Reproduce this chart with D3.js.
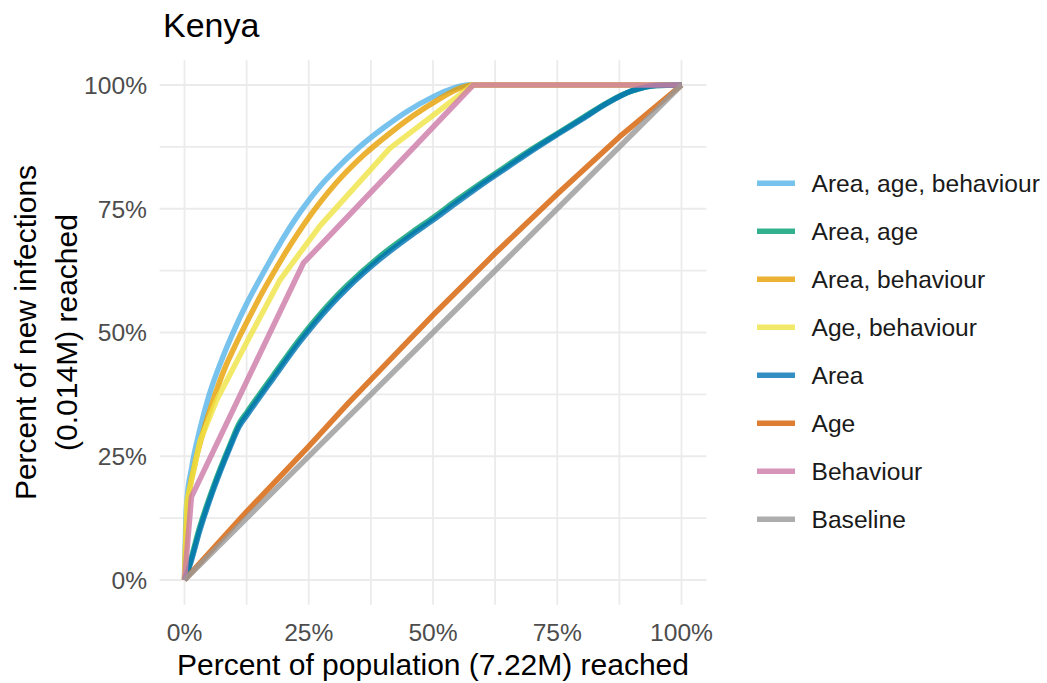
<!DOCTYPE html>
<html>
<head>
<meta charset="utf-8">
<style>
  body { margin: 0; background: #fff; }
  svg { font-family: "Liberation Sans", Arial, sans-serif; }
  .grid line { stroke: #ebebeb; stroke-width: 1.8px; }
  .tick-label { fill: #4d4d4d; font-size: 24.6px; }
  .axis-title { fill: #000; font-size: 30px; }
  .legend text { fill: #1a1a1a; font-size: 24.6px; }
  .series { fill: none; stroke-width: 5.5px; stroke-opacity: 0.8; stroke-linejoin: round; }
</style>
</head>
<body>
<svg width="1047" height="683"></svg>
<script src="https://d3js.org/d3.v7.min.js"></script>
<script>
// chart values (percent of population reached, percent of new infections reached)
var titleText = "Kenya";
var xTitle = "Percent of population (7.22M) reached";
var yTitleLines = ["Percent of new infections", "(0.014M) reached"];
var tickValues = [0, 25, 50, 75, 100];
var gridValues = [0, 12.5, 25, 37.5, 50, 62.5, 75, 87.5, 100];

var seriesNames = ["Area, age, behaviour", "Area, age", "Area, behaviour", "Age, behaviour",
                   "Area", "Age", "Behaviour", "Baseline"];
var seriesColors = ["#56B4E9", "#009E73", "#E69F00", "#F0E442",
                    "#0072B2", "#D55E00", "#CC79A7", "#999999"];
var smoothSeries = [true, true, true, false, true, false, false, false];

var areaAgeBehaviour = [[0,0],[0.4,15],[1.5,23],[3,30],[5,37.5],[7.5,44.5],[10,50.5],[12.5,55.8],[15,60.5],
  [17.5,65],[20,69.3],[22.5,73.2],[25,76.7],[27.5,79.8],[30,82.5],[35,87.3],[40,91.3],[45,94.8],[50,97.6],
  [54,99.3],[57,100],[100,100]];
var areaAge = [[0,0],[1,3.2],[3.1,10.8],[5.8,18.8],[9.2,27.4],[11,31.6],[12.5,33.8],[17.9,41.4],[23.2,48.7],
  [29.3,56],[32.6,59.4],[39.3,65.4],[46,70.4],[50,73.2],[55,76.9],[60,80.4],[65,83.8],[70,87.1],[75,90.2],
  [80,93.3],[85,96.4],[90,98.8],[95,99.9],[100,100]];
var areaBehaviour = [[0,0],[0.6,14.5],[2,23],[3.5,29],[5.5,35.5],[8,42.5],[10.5,48],[13,53],[15.5,57.8],
  [18,62.2],[20.5,66.4],[23,70.3],[25.5,73.9],[28,77.2],[30.5,80.2],[36,85.8],[41,90],[46,93.8],[51,97],
  [55,99.2],[58,100],[100,100]];
var ageBehaviour = [[0,0],[0.5,16],[3.1,28],[6.5,36.4],[12.5,48],[19.2,60.6],[27.3,71.6],[41.3,87.2],
  [58,100],[100,100]];
var area = [[0,0],[1,2.7],[3.1,10.1],[5.8,18.2],[9.2,26.9],[11,31],[12.5,33.2],[17.9,40.8],[23.2,48.1],
  [29.3,55.4],[32.6,58.8],[39.3,64.8],[46,69.9],[50,72.7],[55,76.4],[60,80],[65,83.4],[70,86.8],[75,90],
  [80,93.1],[85,96.3],[90,98.8],[95,99.9],[100,100]];
var age = [[0,0],[12.5,13.8],[25,27],[33,35.8],[50,53.5],[62.5,66],[75,78],[87.5,89.5],[100,100]];
var behaviour = [[0,0],[1.4,16.8],[23.9,64],[58.1,100],[100,100]];
var baseline = [[0,0],[100,100]];

var seriesData = [areaAgeBehaviour, areaAge, areaBehaviour, ageBehaviour, area, age, behaviour, baseline];

var svg = d3.select("svg");

var x = d3.scaleLinear().domain([0, 100]).range([184.5, 681.5]);
var y = d3.scaleLinear().domain([0, 100]).range([580, 85]);
var xMin = x(-5), xMax = x(105), yMin = y(105), yMax = y(-5);

// grid
var grid = svg.append("g").attr("class", "grid");
grid.selectAll(".gx").data(gridValues).enter().append("line")
    .attr("x1", function(d) { return x(d); }).attr("x2", function(d) { return x(d); })
    .attr("y1", yMin).attr("y2", yMax);
grid.selectAll(".gy").data(gridValues).enter().append("line")
    .attr("y1", function(d) { return y(d); }).attr("y2", function(d) { return y(d); })
    .attr("x1", xMin).attr("x2", xMax);

// tick labels
svg.selectAll(".ytick").data(tickValues).enter().append("text")
    .attr("class", "tick-label")
    .attr("x", 147)
    .attr("y", function(d) { return y(d); })
    .attr("dy", "0.36em")
    .attr("text-anchor", "end")
    .text(function(d) { return d + "%"; });
svg.selectAll(".xtick").data(tickValues).enter().append("text")
    .attr("class", "tick-label")
    .attr("x", function(d) { return x(d); })
    .attr("y", 641)
    .attr("text-anchor", "middle")
    .text(function(d) { return d + "%"; });

// lines
var line = d3.line()
    .x(function(d) { return x(d[0]); })
    .y(function(d) { return y(d[1]); });

seriesData.forEach(function(s, i) {
    line.curve(smoothSeries[i] ? d3.curveMonotoneX : d3.curveLinear);
    svg.append("path")
        .datum(s)
        .attr("class", "series")
        .attr("stroke", seriesColors[i])
        .attr("d", line);
});

// titles
svg.append("text")
    .attr("x", 163).attr("y", 37)
    .style("font-size", "34px").style("fill", "#000")
    .text(titleText);

svg.append("text")
    .attr("class", "axis-title")
    .attr("x", (xMin + xMax) / 2).attr("y", 675)
    .attr("text-anchor", "middle")
    .text(xTitle);

svg.selectAll(".ytitle").data(yTitleLines).enter().append("text")
    .attr("class", "axis-title")
    .attr("text-anchor", "middle")
    .attr("transform", function(d, i) {
        return "translate(" + (36 + i * 41) + "," + ((yMin + yMax) / 2) + ") rotate(-90)";
    })
    .text(function(d) { return d; });

// legend
var legend = svg.append("g").attr("class", "legend");
var rows = legend.selectAll("g").data(seriesNames).enter().append("g")
    .attr("transform", function(d, i) { return "translate(0," + (183.3 + i * 48) + ")"; });
rows.append("line")
    .attr("class", "series")
    .attr("x1", 757).attr("x2", 795)
    .attr("stroke", function(d, i) { return seriesColors[i]; });
rows.append("text")
    .attr("x", 811.5)
    .attr("dy", "0.36em")
    .text(function(d) { return d; });
</script>
</body>
</html>
